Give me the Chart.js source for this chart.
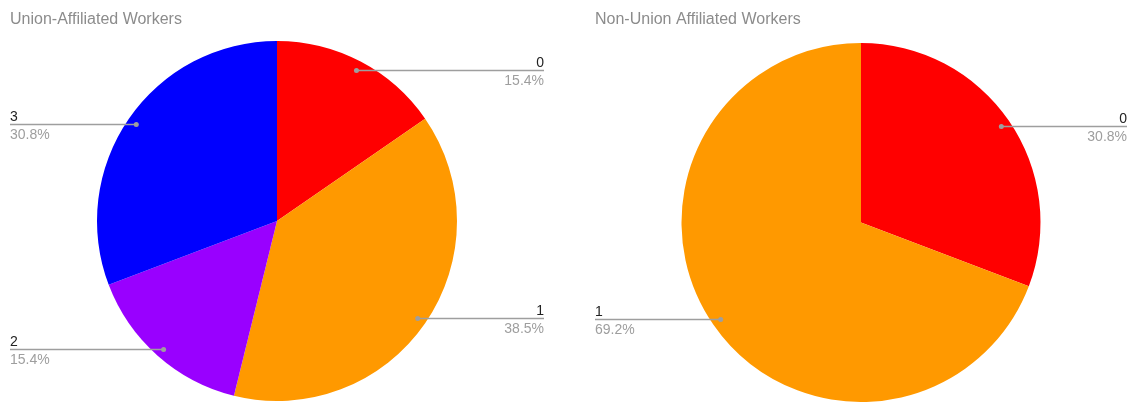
<!DOCTYPE html>
<html>
<head>
<meta charset="utf-8">
<script src="https://cdn.jsdelivr.net/npm/chart.js@4/dist/chart.umd.min.js"></script>
<style>
  html, body { margin: 0; padding: 0; background: #fff; overflow: hidden; }
  .wrap { position: relative; width: 1132px; height: 402px; }
  canvas { position: absolute; top: 0; }
</style>
</head>
<body>
<div class="wrap">
  <canvas id="union" width="566" height="402" style="left:0"></canvas>
  <canvas id="nonunion" width="566" height="402" style="left:566px"></canvas>
</div>
<script>
const unionCategories = ['0', '1', '2', '3']
const unionCounts = [2, 5, 2, 4]
const unionColors = ['#ff0000', '#ff9900', '#9900ff', '#0000ff']

const nonUnionCategories = ['0', '1']
const nonUnionCounts = [4, 9]
const nonUnionColors = ['#ff0000', '#ff9900']

const FONT = '"Liberation Sans", Arial, sans-serif'

// title + leader-line labels, placed off each arc's mid angle
const pieLabels = {
    id: 'pieLabels',
    afterDraw(chart, args, opts) {
        const ctx = chart.ctx
        const ds = chart.data.datasets[0]
        const total = ds.data.reduce((a, b) => a + b, 0)
        const meta = chart.getDatasetMeta(0)

        ctx.save()
        ctx.font = '16px ' + FONT
        ctx.fillStyle = '#8c8c8c'
        ctx.textAlign = 'left'
        ctx.textBaseline = 'alphabetic'
        ctx.fillText(opts.title, opts.left, 24)

        meta.data.forEach((arc, i) => {
            const mid = (arc.startAngle + arc.endAngle) / 2
            const r = arc.outerRadius * 0.95
            const px = arc.x + Math.cos(mid) * r
            const py = Math.round(arc.y + Math.sin(mid) * r) + 0.5
            const right = Math.cos(mid) >= 0
            const edge = right ? opts.right : opts.left

            ctx.strokeStyle = '#9e9e9e'
            ctx.lineWidth = 1.5
            ctx.beginPath()
            ctx.moveTo(px, py)
            ctx.lineTo(edge, py)
            ctx.stroke()

            ctx.fillStyle = '#9e9e9e'
            ctx.beginPath()
            ctx.arc(px, py, 2.5, 0, Math.PI * 2)
            ctx.fill()

            ctx.textAlign = right ? 'right' : 'left'
            ctx.font = '14px ' + FONT
            ctx.fillStyle = '#222222'
            ctx.fillText(chart.data.labels[i], edge, py - 4)
            ctx.fillStyle = '#9e9e9e'
            const pct = (ds.data[i] / total * 100).toFixed(1) + '%'
            ctx.fillText(pct, edge, py + 14)
        })
        ctx.restore()
    }
}

function makePie(id, labels, values, colors, title, padding, edges) {
    return new Chart(document.getElementById(id), {
        type: 'pie',
        data: {
            labels: labels,
            datasets: [{
                data: values,
                backgroundColor: colors,
                borderWidth: 0,
            }],
        },
        options: {
            responsive: false,
            animation: false,
            devicePixelRatio: 1,
            layout: { padding: padding },
            plugins: {
                legend: { display: false },
                tooltip: { enabled: false },
                pieLabels: { title: title, left: edges[0], right: edges[1] },
            },
        },
        plugins: [pieLabels],
    })
}

makePie('union', unionCategories, unionCounts, unionColors,
    'Union-Affiliated Workers',
    { top: 41, bottom: 1, left: 97, right: 109 }, [10, 544])

makePie('nonunion', nonUnionCategories, nonUnionCounts, nonUnionColors,
    'Non-Union Affiliated Workers',
    { top: 43, bottom: 0, left: 115, right: 91 }, [29, 561])
</script>
</body>
</html>
